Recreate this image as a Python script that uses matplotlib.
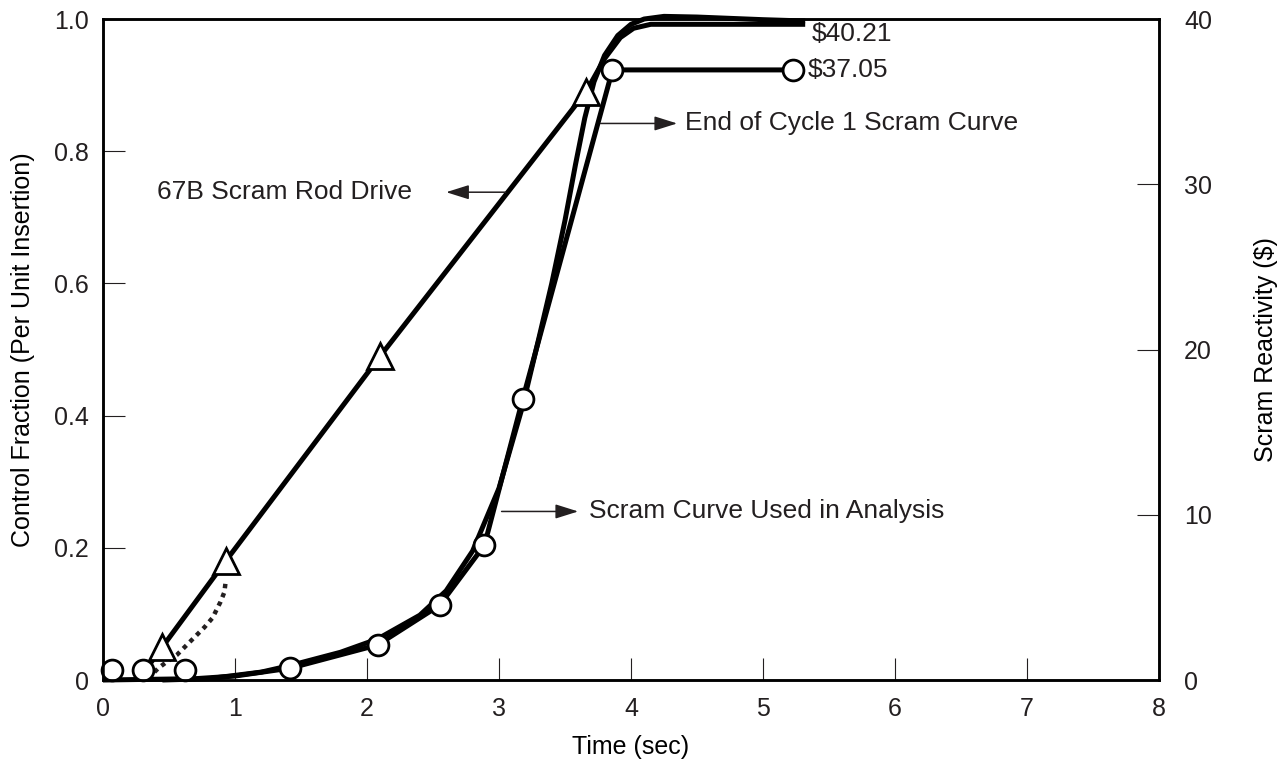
import numpy as np
from matplotlib import pyplot as plt

plt.rcParams['font.family'] = ['Liberation Sans', 'DejaVu Sans']
plt.rcParams['font.size'] = 18
plt.rcParams['text.color'] = '#231f20'
plt.rcParams['xtick.color'] = '#231f20'
plt.rcParams['ytick.color'] = '#231f20'

# 67B scram rod drive (control fraction vs time), triangles on the measured points
rod_t = [0.34, 0.45, 0.93, 2.10, 3.66, 3.80, 3.92, 4.02, 4.15, 5.32]
rod_f = [0.02, 0.05, 0.18, 0.49, 0.89, 0.940, 0.972, 0.986, 0.992, 0.992]
rod_marks = [1, 2, 3, 4]

# early rod motion (dotted)
early_t = [0.39, 0.42, 0.48, 0.56, 0.65, 0.71, 0.77, 0.83, 0.86, 0.89, 0.92, 0.93]
early_f = [0.012, 0.018, 0.027, 0.038, 0.056, 0.068, 0.080, 0.094, 0.106, 0.118, 0.133, 0.150]

# end of cycle 1 scram curve (smooth)
eoc_t = [0.45, 0.80, 1.20, 1.42, 1.80, 2.08, 2.40, 2.60, 2.80, 3.00, 3.18, 3.30,
         3.40, 3.50, 3.58, 3.65, 3.72, 3.80, 3.90, 4.00, 4.10, 4.25, 4.50, 5.00, 5.32]
eoc_f = [0.0, 0.002, 0.012, 0.022, 0.042, 0.062, 0.098, 0.135, 0.195, 0.290, 0.415, 0.515,
         0.600, 0.695, 0.780, 0.850, 0.905, 0.945, 0.975, 0.992, 1.000, 1.004, 1.003, 0.999, 0.997]

# scram curve used in analysis
used_t = [0.0, 0.70, 1.00, 1.42, 2.08, 2.55, 2.89, 3.18, 3.86, 5.23]
used_f = [0.0, 0.002, 0.006, 0.018, 0.053, 0.113, 0.204, 0.425, 0.923, 0.923]
circ_t = [0.07, 0.30, 0.62, 1.42, 2.08, 2.55, 2.89, 3.18, 3.86, 5.23]
circ_f = [0.015, 0.015, 0.015, 0.018, 0.053, 0.113, 0.204, 0.425, 0.923, 0.923]

xticks = [0, 1, 2, 3, 4, 5, 6, 7, 8]
yticks = [0, 0.2, 0.4, 0.6, 0.8, 1.0]
ylabels = ['0', '0.2', '0.4', '0.6', '0.8', '1.0']
rticks = [0, 10, 20, 30, 40]

fig = plt.figure(figsize=(12.87, 7.73), dpi=100)
ax = fig.add_axes([0.0800, 0.1203, 0.8205, 0.8551])

lw = 3.6
ax.plot(eoc_t, eoc_f, color='black', lw=lw, solid_capstyle='butt', clip_on=False, zorder=3)
ax.plot(used_t, used_f, color='black', lw=lw, solid_capstyle='butt', clip_on=False, zorder=3)
ax.plot(rod_t, rod_f, color='black', lw=lw, solid_capstyle='butt', clip_on=False, zorder=3)
ax.plot(early_t, early_f, color='#231f20', lw=3.2, linestyle=(0, (1, 1.1)), zorder=3)

ax.plot(circ_t, circ_f, 'o', ms=15, mfc='white', mec='black', mew=2.0, clip_on=False, zorder=5)
ax.plot([rod_t[i] for i in rod_marks], [rod_f[i] for i in rod_marks], '^', ms=19,
        mfc='white', mec='black', mew=2.0, clip_on=False, zorder=5)

ax.set_xlim(0, 8)
ax.set_ylim(0, 1.0)
ax.set_xticks(xticks)
ax.set_yticks(yticks)
ax.set_yticklabels(ylabels)
ax.tick_params(direction='in', length=16, width=0.8, top=False, right=False)
ax.tick_params(axis='x', pad=12)
ax.tick_params(axis='y', pad=10)
for s in ax.spines.values():
    s.set_linewidth(1.8)
ax.set_xlabel('Time (sec)', labelpad=10)
ax.set_ylabel('Control Fraction (Per Unit Insertion)', labelpad=14)

ax2 = ax.twinx()
ax2.set_ylim(0, 40)
ax2.set_yticks(rticks)
ax2.tick_params(direction='in', length=16, width=0.8, pad=18)
for s in ax2.spines.values():
    s.set_linewidth(1.8)
ax2.set_ylabel('Scram Reactivity (\\$)', labelpad=30)

fs = 19
arrow = dict(arrowstyle='-|>,head_length=0.7,head_width=0.22', lw=1.1, color='#231f20',
             mutation_scale=20, shrinkA=0, shrinkB=0)
ax.annotate('', xy=(2.6, 0.738), xytext=(3.05, 0.738), arrowprops=arrow)
ax.text(0.41, 0.738, '67B Scram Rod Drive', va='center', ha='left', fontsize=fs)

ax.annotate('', xy=(4.35, 0.842), xytext=(3.77, 0.842), arrowprops=arrow)
ax.text(4.41, 0.842, 'End of Cycle 1 Scram Curve', va='center', ha='left', fontsize=fs)

ax.annotate('', xy=(3.60, 0.255), xytext=(3.02, 0.255), arrowprops=arrow)
ax.text(3.68, 0.255, 'Scram Curve Used in Analysis', va='center', ha='left', fontsize=fs)

ax.text(5.37, 0.977, '\\$40.21', va='center', ha='left', fontsize=fs)
ax.text(5.34, 0.923, '\\$37.05', va='center', ha='left', fontsize=fs)

fig.savefig('out.png', dpi=100)
